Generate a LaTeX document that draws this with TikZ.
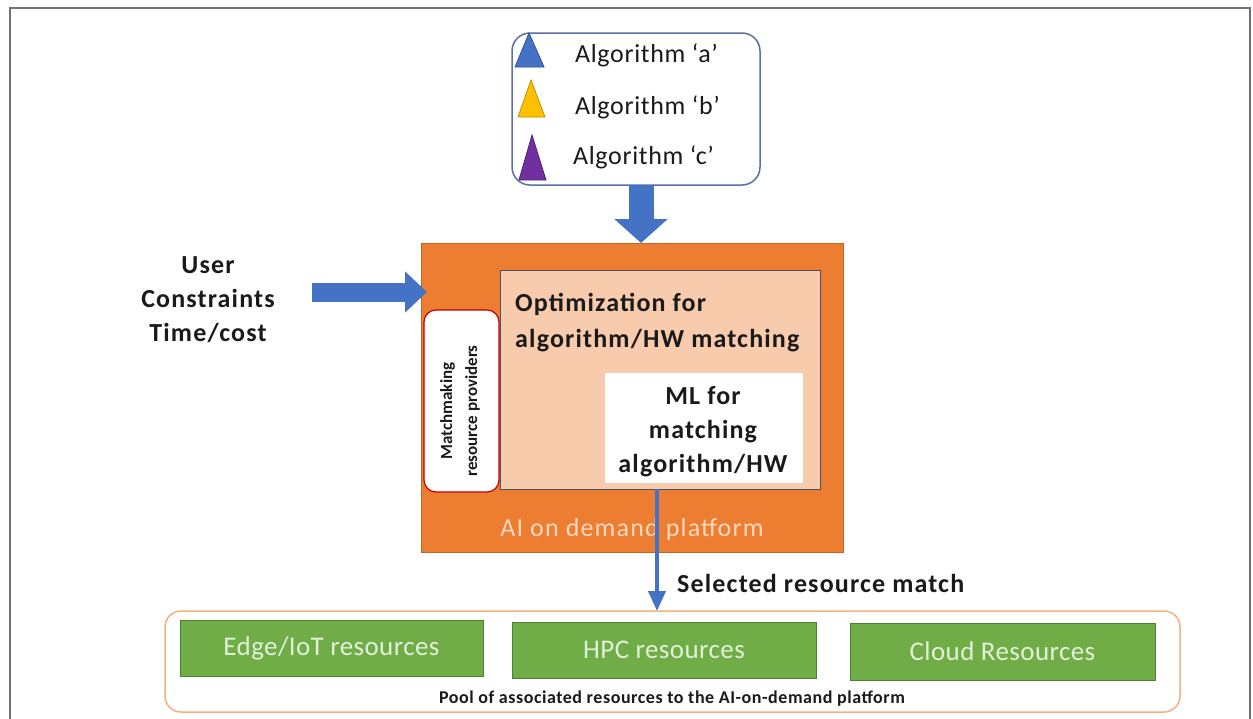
\documentclass[tikz,border=0pt]{standalone}
\usepackage{fontspec}
\setmainfont{Carlito}
\usetikzlibrary{arrows.meta,calc}
\definecolor{ablue}{HTML}{4472C4}
\definecolor{ablueD}{HTML}{2F528F}
\definecolor{algborder}{HTML}{5A6EA8}
\definecolor{ayellow}{HTML}{FFC000}
\definecolor{ayellowD}{HTML}{BF9000}
\definecolor{apurple}{HTML}{7030A0}
\definecolor{apurpleD}{HTML}{4E2272}
\definecolor{aorange}{HTML}{ED7D31}
\definecolor{aorangeD}{HTML}{C0651F}
\definecolor{apeach}{HTML}{F8CBAD}
\definecolor{aslate}{HTML}{44546A}
\definecolor{aplat}{HTML}{FAD9C0}
\definecolor{ared}{HTML}{C00000}
\definecolor{agreen}{HTML}{70AD47}
\definecolor{agreenD}{HTML}{507E32}
\definecolor{agreenT}{HTML}{E2F0D9}
\definecolor{apool}{HTML}{F4B183}
\definecolor{aframe}{HTML}{707084}
\definecolor{atext}{HTML}{1A1A1A}
\tikzset{
  boxnw/.style={anchor=north west, inner sep=0pt, outer sep=0pt},
  greenbox/.style={boxnw, fill=agreen, draw=agreenD, line width=1pt},
  greentext/.style={font=\fontsize{27}{32}\selectfont\addfontfeature{LetterSpace=1.5}, text=agreenT, inner sep=0pt},
  bigbold/.style={font=\fontsize{26}{34}\selectfont\bfseries\addfontfeature{LetterSpace=4.5}, text=atext, inner sep=0pt},
  algtext/.style={font=\fontsize{26}{30}\selectfont\addfontfeature{LetterSpace=2.5}, text=atext, inner sep=0pt, anchor=west},
  tri/.style={line width=0.8pt},
}
\begin{document}
\begin{tikzpicture}[x=1pt,y=-1pt]
\useasboundingbox (0,0) rectangle (1253,718);
\clip (0,0) rectangle (1253,718);
\fill[white] (0,0) rectangle (1253,718);
\draw[aframe, line width=2pt] (10,8) rectangle (1250,760);

% algorithm box
\node[boxnw, draw=algborder, line width=1.5pt, rounded corners=18pt, fill=white,
  minimum width=248pt, minimum height=152pt] (alg) at (512,33) {};
\filldraw[tri, fill=ablue, draw=ablueD] (515,67) -- (529,33) -- (544,67) -- cycle;
\filldraw[tri, fill=ayellow, draw=ayellowD] (518,117) -- (531,80) -- (545,117) -- cycle;
\filldraw[tri, fill=apurple, draw=apurpleD] (519,180) -- (532,135) -- (546,180) -- cycle;
\node[algtext] (ta) at (575,55) {Algorithm ‘a’};
\node[algtext] (tb) at (575,107) {Algorithm ‘b’};
\node[algtext] (tc) at (573,157) {Algorithm ‘c’};

% platform
\node[boxnw, fill=aorange, draw=aorangeD, line width=1pt,
  minimum width=422pt, minimum height=309pt] (orange) at (421,243) {};
\node[boxnw, fill=apeach, draw=aslate, line width=1pt,
  minimum width=320pt, minimum height=219pt] (peach) at (500,270) {};
\node[boxnw, fill=white, draw=ared, line width=1.2pt, rounded corners=12pt,
  minimum width=75pt, minimum height=182pt] (mm) at (424,310) {};
\node[rotate=90, align=center, font=\fontsize{17}{25}\selectfont\bfseries, text=atext, inner sep=0pt]
  (mmt) at (460,411) {Matchmaking\\resource providers};
\node[boxnw, fill=white, minimum width=198pt, minimum height=110pt] (ml) at (605,373) {};
\node[bigbold, align=center] (mlt) at (703,432) {ML for\\matching\\algorithm/HW};
\node[bigbold, font=\fontsize{26}{36}\selectfont\bfseries\addfontfeature{LetterSpace=4.5}, align=left, anchor=west] (opt) at (515,323) {Optimization for\\algorithm/HW matching};
\node[font=\fontsize{26}{30}\selectfont\addfontfeature{LetterSpace=4.5}, text=aplat, inner sep=0pt] (plat) at (632,530) {AI on demand platform};

% user constraints
\node[bigbold, align=center] (user) at (208,300) {User\\Constraints\\Time/cost};

% arrows
\coordinate (topa) at ($(alg.south)+(5,0)$);
\draw[ablue, line width=25pt, -{Triangle[width=52pt,length=24pt]}] (topa) -- (topa |- orange.north);
\coordinate (lefta) at (312,292);
\draw[ablue, line width=19pt, -{Triangle[width=40pt,length=22pt]}] (lefta) -- ($(lefta -| orange.west)+(6,0)$);

% pool
\node[boxnw, draw=apool, line width=1.5pt, rounded corners=16pt,
  minimum width=1015pt, minimum height=101pt] (pool) at (165,611) {};
\node[greenbox, minimum width=303pt, minimum height=56pt] (edge) at (180,620) {};
\node[greenbox, minimum width=304pt, minimum height=56pt] (hpc) at (512,622) {};
\node[greenbox, minimum width=305pt, minimum height=57pt] (cloud) at (850,623) {};
\node[greentext] at (edge.center) {Edge/IoT resources};
\node[greentext] at (hpc.center) {HPC resources};
\node[greentext] at (cloud.center) {Cloud Resources};
\node[font=\fontsize{18}{20}\selectfont\bfseries\addfontfeature{LetterSpace=3}, text=atext, inner sep=0pt] (poolt) at (672,699)
  {Pool of associated resources to the AI-on-demand platform};

\coordinate (sela) at ($(peach.south)+(-3,0)$);
\draw[ablue, line width=4pt, -{Triangle[width=17pt,length=20pt]}] (sela) -- (sela |- pool.north);
\node[bigbold, anchor=west] (sel) at (677,583) {Selected resource match};
\end{tikzpicture}
\end{document}
